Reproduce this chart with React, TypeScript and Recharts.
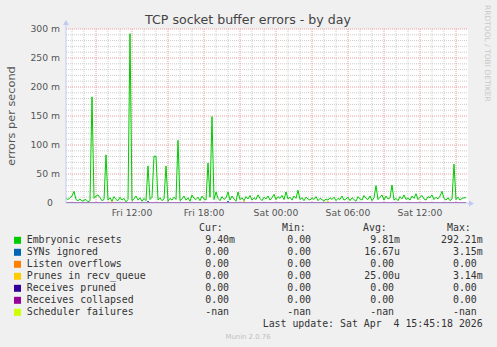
import React from 'react';
import { LineChart, Line, XAxis, YAxis, CartesianGrid } from 'recharts';

// time axis: hours counted from Fri 00:00, one sample every 10 minutes
const START_HOUR = 6.5;
const STEP_HOURS = 1 / 6;
const X_DOMAIN: [number, number] = [6.5, 40];
const Y_DOMAIN: [number, number] = [0, 300];

// values in milli-errors per second
const embryonicResets = [
  8, 6, 9, 12, 20, 6, 4, 7, 3, 5,
  6, 2, 4, 183, 8, 12, 14, 9, 4, 6,
  83, 5, 9, 3, 11, 6, 4, 10, 5, 8,
  2, 6, 292, 4, 7, 12, 5, 9, 3, 8,
  4, 64, 6, 10, 81, 80, 5, 9, 4, 7,
  64, 3, 8, 5, 10, 6, 108, 4, 7, 12,
  5, 9, 3, 14, 8, 6, 10, 4, 12, 7,
  5, 69, 10, 149, 6, 19, 8, 4, 11, 6,
  9, 19, 5, 12, 7, 3, 19, 6, 9, 4,
  11, 7, 13, 5, 9, 6, 14, 8, 4, 10,
  7, 12, 5, 9, 15, 6, 11, 8, 13, 6,
  19, 7, 10, 5, 12, 8, 22, 6, 9, 4,
  10, 7, 5, 9, 6, 11, 4, 8, 6, 3,
  7, 5, 9, 6, 10, 4, 8, 6, 12, 5,
  7, 10, 4, 9, 6, 3, 11, 7, 5, 13,
  8, 6, 12, 4, 9, 30, 6, 10, 14, 5,
  12, 7, 9, 31, 5, 8, 4, 11, 7, 14,
  6, 9, 5, 12, 8, 16, 6, 10, 13, 7,
  5, 11, 9, 14, 6, 10, 7, 12, 20, 8,
  5, 9, 4, 7, 67, 6, 10, 5, 8, 9,
  9,
];
// sparse series: [sample index, value]; every other sample is 0
const synsIgnoredPeaks: Array<[number, number]> = [[41, 3.15], [81, 3.15]];
const prunesPeaks: Array<[number, number]> = [[23, 3.14], [89, 3.14], [131, 3.14]];
const listenOverflowsLevel = 0;
const receivesPrunedLevel = 0;
const receivesCollapsedLevel = 0;
const schedulerFailuresLevel: number | null = null; // -nan

const xTicks = [12, 18, 24, 30, 36];
const xTickLabels = ['Fri 12:00', 'Fri 18:00', 'Sat 00:00', 'Sat 06:00', 'Sat 12:00'];
const yTicks = [0, 50, 100, 150, 200, 250, 300];
const yTickLabels = ['0', '50 m', '100 m', '150 m', '200 m', '250 m', '300 m'];

const majorHours = [9, 12, 15, 18, 21, 24, 27, 30, 33, 36, 39];
const minorHours = [7, 8, 10, 11, 13, 14, 16, 17, 19, 20, 22, 23, 25, 26, 28, 29, 31, 32, 34, 35, 37, 38];
const majorValues = [50, 100, 150, 200, 250, 300];
const minorValues = [10, 20, 30, 40, 60, 70, 80, 90, 110, 120, 130, 140, 160, 170, 180, 190, 210, 220, 230, 240, 260, 270, 280, 290];

const seriesNames = ['Embryonic resets', 'SYNs ignored', 'Listen overflows', 'Prunes in recv_queue', 'Receives pruned', 'Receives collapsed', 'Scheduler failures'];
const seriesKeys = ['embryonic', 'syns', 'listen', 'prunes', 'pruned', 'collapsed', 'scheduler'];
const seriesColors = ['#00CC00', '#0066B3', '#FF8000', '#FFCC00', '#330099', '#990099', '#CCFF00'];
const curValues = ['9.40m', '0.00 ', '0.00 ', '0.00 ', '0.00 ', '0.00 ', '-nan '];
const minValues = ['0.00 ', '0.00 ', '0.00 ', '0.00 ', '0.00 ', '0.00 ', '-nan '];
const avgValues = ['9.81m', '16.67u', '0.00 ', '25.00u', '0.00 ', '0.00 ', '-nan '];
const maxValues = ['292.21m', '3.15m', '0.00 ', '3.14m', '0.00 ', '0.00 ', '-nan '];
const lastUpdate = 'Last update: Sat Apr  4 15:45:18 2026';

const synsMap = new Map(synsIgnoredPeaks);
const prunesMap = new Map(prunesPeaks);
const data = embryonicResets.map((v, i) => ({
  t: START_HOUR + i * STEP_HOURS,
  embryonic: v,
  syns: synsMap.get(i) ?? 0,
  listen: listenOverflowsLevel,
  prunes: prunesMap.get(i) ?? 0,
  pruned: receivesPrunedLevel,
  collapsed: receivesCollapsedLevel,
  scheduler: schedulerFailuresLevel,
}));

const SANS = 'DejaVu Sans';
const MONO = 'DejaVu Sans Mono';
const AXIS_COLOR = '#c4c9f2';
const PRE = { whiteSpace: 'pre' as const };

const XTick = (props: any) => {
  const { x, y, payload } = props;
  const label = xTickLabels[xTicks.indexOf(payload.value)];
  return (
    <text x={x} y={y} dy={12.5} textAnchor="middle" fontSize={9.25} fill="#555" fontFamily={SANS}>
      {label}
    </text>
  );
};

const YTick = (props: any) => {
  const { x, y, payload } = props;
  const label = yTickLabels[yTicks.indexOf(payload.value)];
  const off = payload.value === 0 ? 13 : 6;
  return (
    <text x={x - off} y={y} dy={3.4} textAnchor="end" fontSize={9.25} fill="#555" fontFamily={SANS}>
      {label}
    </text>
  );
};

const applyScale = (scale: any, v: number): number | undefined => {
  if (typeof scale === 'function') return scale(v);
  if (scale && typeof scale.map === 'function') return scale.map(v);
  if (scale && typeof scale.scale === 'function') return scale.scale(v);
  return undefined;
};

const vGen = (hours: number[]) => (p: any) =>
  hours.map((h) => {
    const s = applyScale(p?.xAxis?.scale, h);
    if (typeof s === 'number' && !isNaN(s)) return s;
    const o = p.offset;
    return o.left + ((h - X_DOMAIN[0]) / (X_DOMAIN[1] - X_DOMAIN[0])) * o.width;
  });
const hGen = (vals: number[]) => (p: any) =>
  vals.map((v) => {
    const s = applyScale(p?.yAxis?.scale, v);
    if (typeof s === 'number' && !isNaN(s)) return s;
    const o = p.offset;
    return o.top + o.height - ((v - Y_DOMAIN[0]) / (Y_DOMAIN[1] - Y_DOMAIN[0])) * o.height;
  });

const MonoText = (p: { x: number; y: number; anchor?: 'start' | 'end'; children: string }) => (
  <text x={p.x} y={p.y} textAnchor={p.anchor ?? 'start'} xmlSpace="preserve" style={PRE}>
    {p.children.replace(/ /g, '\u00A0')}
  </text>
);

export default function App() {
  const rowBase = 243.3;
  const rowStep = 12;
  return (
    <div style={{ position: 'absolute', left: 0, top: 0, width: 497, height: 347, background: '#F0F0F0', overflow: 'hidden' }}>
      <LineChart width={497} height={347} data={data} margin={{ top: 29, right: 29, bottom: 124, left: 0 }}>
        <CartesianGrid
          fill="#ffffff"
          stroke="#cccccc"
          strokeDasharray="1 1"
          verticalCoordinatesGenerator={vGen(minorHours)}
          horizontalCoordinatesGenerator={hGen(minorValues)}
        />
        <CartesianGrid
          stroke="#eb9c9c"
          strokeDasharray="1 1"
          verticalCoordinatesGenerator={vGen(majorHours)}
          horizontalCoordinatesGenerator={hGen(majorValues)}
        />
        <XAxis
          dataKey="t"
          type="number"
          domain={X_DOMAIN}
          allowDataOverflow
          ticks={xTicks}
          tick={<XTick />}
          tickLine={false}
          tickSize={0}
          tickMargin={0}
          height={20}
          axisLine={{ stroke: AXIS_COLOR }}
        />
        <YAxis
          type="number"
          domain={Y_DOMAIN}
          allowDataOverflow
          ticks={yTicks}
          tick={<YTick />}
          tickLine={false}
          tickSize={0}
          tickMargin={0}
          width={66}
          axisLine={{ stroke: AXIS_COLOR }}
        />
        {seriesKeys.map((k, i) => (
          <Line
            key={k}
            dataKey={k}
            type="linear"
            stroke={seriesColors[i]}
            strokeWidth={1}
            dot={false}
            activeDot={false}
            isAnimationActive={false}
            connectNulls={false}
          />
        ))}
      </LineChart>
      <svg width={497} height={347} style={{ position: 'absolute', left: 0, top: 0, pointerEvents: 'none' }}>
        <text x={248} y={24} textAnchor="middle" fontSize={12.6} fill="#444" fontFamily={SANS}>
          TCP socket buffer errors - by day
        </text>
        <text transform="translate(15,116) rotate(-90)" textAnchor="middle" fontSize={11.3} fill="#555" fontFamily={SANS}>
          errors per second
        </text>
        <text transform="translate(484.5,53.3) rotate(90)" textAnchor="middle" fontSize={7.5} fill="#c8c8c8" fontFamily={SANS}>
          RRDTOOL / TOBI OETIKER
        </text>
        {/* axis arrows */}
        <line x1={66} y1={29} x2={66} y2={24} stroke={AXIS_COLOR} />
        <polygon points="63,25 69,25 66,20" fill={AXIS_COLOR} />
        <line x1={468} y1={203.5} x2={470} y2={203.5} stroke={AXIS_COLOR} />
        <polygon points="469,200.5 469,206.5 474,203.5" fill={AXIS_COLOR} />
        {/* legend */}
        <g fontFamily={MONO} fontSize={9.9} fill="#333">
          <MonoText x={199} y={231}>Cur:</MonoText>
          <MonoText x={282} y={231}>Min:</MonoText>
          <MonoText x={363} y={231}>Avg:</MonoText>
          <MonoText x={447} y={231}>Max:</MonoText>
          {seriesNames.map((n, i) => {
            const y = rowBase + i * rowStep;
            return (
              <g key={n}>
                <rect x={14} y={y - 6.5} width={7} height={7} fill={seriesColors[i]} />
                <MonoText x={26.7} y={y}>{n}</MonoText>
                <MonoText x={235} y={y} anchor="end">{curValues[i]}</MonoText>
                <MonoText x={317} y={y} anchor="end">{minValues[i]}</MonoText>
                <MonoText x={400} y={y} anchor="end">{avgValues[i]}</MonoText>
                <MonoText x={482.7} y={y} anchor="end">{maxValues[i]}</MonoText>
              </g>
            );
          })}
          <MonoText x={482.7} y={327.3} anchor="end">{lastUpdate}</MonoText>
        </g>
        <text x={248} y={339.3} textAnchor="middle" fontSize={6.9} fill="#c0c0c0" fontFamily={SANS}>
          Munin 2.0.76
        </text>
      </svg>
    </div>
  );
}
